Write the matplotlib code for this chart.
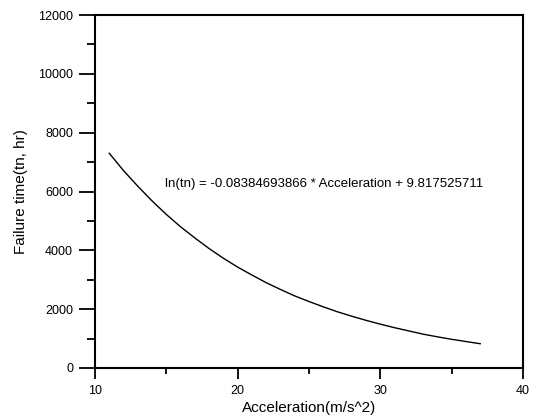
import matplotlib
matplotlib.use("Agg")
import matplotlib.pyplot as plt
from matplotlib.ticker import MultipleLocator

plt.rcParams['font.family'] = ['Liberation Sans', 'DejaVu Sans']

acceleration = [11, 12, 13, 14, 15, 16, 17, 18, 19, 20, 21, 22, 23, 24,
                25, 26, 27, 28, 29, 30, 31, 32, 33, 34, 35, 36, 37]
failure_time = [7300, 6710, 6180, 5680, 5220, 4800, 4420, 4060, 3730, 3430,
                3160, 2900, 2670, 2450, 2260, 2080, 1910, 1760, 1620, 1490,
                1370, 1260, 1150, 1060, 975, 900, 825]
x_ticks = [10, 20, 30, 40]
y_ticks = [0, 2000, 4000, 6000, 8000, 10000, 12000]
equation = "ln(tn) = -0.08384693866 * Acceleration + 9.817525711"

fig = plt.figure(figsize=(5.36, 4.2), dpi=100)
ax = fig.add_axes([95/536, 1 - 368/420, (523-95)/536, (368-15)/420])
ax.plot(acceleration, failure_time, color='black', lw=1.0)
ax.set_xlim(10, 40)
ax.set_ylim(0, 12000)
ax.set_xticks(x_ticks)
ax.set_yticks(y_ticks)
ax.xaxis.set_minor_locator(MultipleLocator(5))
ax.yaxis.set_minor_locator(MultipleLocator(1000))
ax.tick_params(axis='y', which='major', direction='out', length=11.5, width=1.3, labelsize=9, pad=4.3)
ax.tick_params(axis='y', which='minor', direction='out', length=5.8, width=1.3)
ax.tick_params(axis='x', which='major', direction='out', length=8, width=1.3, labelsize=9, pad=4.3)
ax.tick_params(axis='x', which='minor', direction='out', length=4, width=1.3)
for s in ax.spines.values():
    s.set_linewidth(1.5)
ax.set_xlabel("Acceleration(m/s^2)", fontsize=11, labelpad=3)
ax.set_ylabel("Failure time(tn, hr)", fontsize=11, labelpad=7)
ax.text(14.9, 6240, equation, fontsize=9.5, va='center', ha='left')
fig.savefig("out.png", dpi=100)
